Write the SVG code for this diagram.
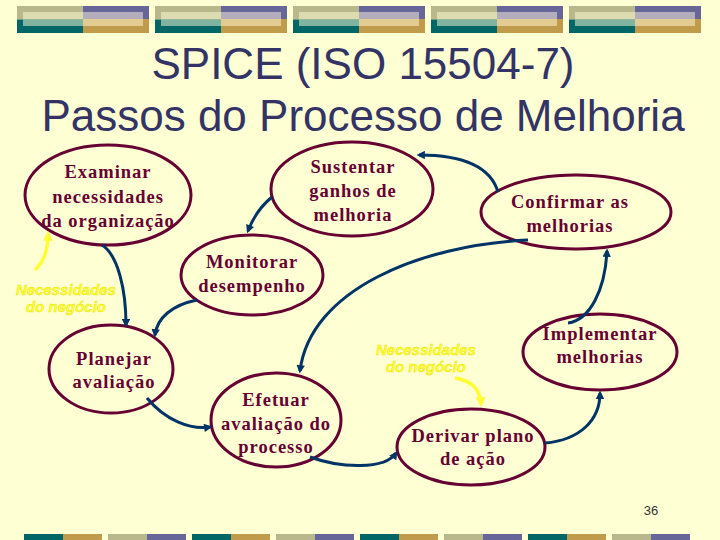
<svg xmlns="http://www.w3.org/2000/svg" width="720" height="540" viewBox="0 0 720 540">
<defs>
<style>
.title{font-family:"Liberation Sans",Arial,sans-serif;font-size:44px;fill:#333366;text-anchor:middle}
.node ellipse{fill:#ffffd4;stroke:#660033;stroke-width:3}
.node text{font-family:"Liberation Serif","Times New Roman",serif;font-weight:bold;font-size:18.5px;fill:#660033;text-anchor:middle;letter-spacing:1px}
.conn{fill:none;stroke:#003366;stroke-width:3;marker-end:url(#arr)}
.ycon{fill:none;stroke:#ffff33;stroke-width:3.5;marker-end:url(#yarr)}
.ylab{font-family:"Liberation Sans",Arial,sans-serif;font-style:italic;font-weight:bold;font-size:15px;fill:#ffff33;stroke:#e6e000;stroke-width:0.4;text-anchor:middle}
.pg{font-family:"Liberation Sans",Arial,sans-serif;font-size:13px;fill:#333333;text-anchor:middle}
</style>
<marker id="arr" viewBox="0 0 10 10" refX="7" refY="5" markerWidth="3.2" markerHeight="2.8" orient="auto" markerUnits="strokeWidth">
<path d="M0,0 L10,5 L0,10 z" fill="#003366"/>
</marker>
<marker id="yarr" viewBox="0 0 10 10" refX="7" refY="5" markerWidth="3" markerHeight="2.8" orient="auto" markerUnits="strokeWidth">
<path d="M0,0 L10,5 L0,10 z" fill="#ffff33"/>
</marker>
<g id="tb">
<rect x="0" y="0" width="66" height="13.5" fill="#b8b88c"/>
<rect x="66" y="0" width="66" height="13" fill="#666699"/>
<rect x="0" y="13.5" width="66" height="13.5" fill="#006666"/>
<rect x="66" y="13" width="66" height="14" fill="#c19b4c"/>
<rect x="6" y="6" width="60" height="7.5" fill="#dcdcb0"/>
<rect x="66" y="6" width="60" height="7" fill="#b3adbc"/>
<rect x="6" y="13.5" width="60" height="6.5" fill="#80b3a0"/>
<rect x="66" y="13" width="60" height="7" fill="#e2cc92"/>
</g>
</defs>
<rect x="0" y="0" width="720" height="540" fill="#ffffd4"/>
<g id="topbar">
<use href="#tb" x="17" y="6"/>
<use href="#tb" x="155" y="6"/>
<use href="#tb" x="293" y="6"/>
<use href="#tb" x="431" y="6"/>
<use href="#tb" x="569" y="6"/>
</g>
<g id="bottombar">
<rect x="24" y="534" width="39" height="6" fill="#006666"/><rect x="63" y="534" width="39" height="6" fill="#c19b4c"/>
<rect x="108" y="534" width="39" height="6" fill="#b8b88c"/><rect x="147" y="534" width="39" height="6" fill="#666699"/>
<rect x="192" y="534" width="39" height="6" fill="#006666"/><rect x="231" y="534" width="39" height="6" fill="#c19b4c"/>
<rect x="276" y="534" width="39" height="6" fill="#b8b88c"/><rect x="315" y="534" width="39" height="6" fill="#666699"/>
<rect x="360" y="534" width="39" height="6" fill="#006666"/><rect x="399" y="534" width="39" height="6" fill="#c19b4c"/>
<rect x="444" y="534" width="39" height="6" fill="#b8b88c"/><rect x="483" y="534" width="39" height="6" fill="#666699"/>
<rect x="528" y="534" width="39" height="6" fill="#006666"/><rect x="567" y="534" width="39" height="6" fill="#c19b4c"/>
<rect x="612" y="534" width="39" height="6" fill="#b8b88c"/><rect x="651" y="534" width="39" height="6" fill="#666699"/>
</g>
<g id="title">
<text class="title" x="363" y="79">SPICE (ISO 15504-7)</text>
<text class="title" x="363" y="131">Passos do Processo de Melhoria</text>
</g>
<g id="n-examinar" class="node">
<ellipse cx="108" cy="195" rx="83" ry="50"/>
<text x="108" y="178">Examinar</text>
<text x="108" y="203">necessidades</text>
<text x="108" y="227">da organização</text>
</g>
<g id="n-sustentar" class="node">
<ellipse cx="352" cy="189" rx="81" ry="47"/>
<text x="353" y="173">Sustentar</text>
<text x="353" y="197">ganhos de</text>
<text x="353" y="221">melhoria</text>
</g>
<g id="n-confirmar" class="node">
<ellipse cx="576" cy="212" rx="95" ry="37"/>
<text x="570" y="208">Confirmar as</text>
<text x="570" y="232">melhorias</text>
</g>
<g id="n-monitorar" class="node">
<ellipse cx="252" cy="275" rx="71" ry="40"/>
<text x="252" y="268">Monitorar</text>
<text x="252" y="292">desempenho</text>
</g>
<g id="n-planejar" class="node">
<ellipse cx="111" cy="369" rx="62" ry="44"/>
<text x="114" y="365">Planejar</text>
<text x="114" y="388">avaliação</text>
</g>
<g id="n-efetuar" class="node">
<ellipse cx="276" cy="420" rx="65" ry="47"/>
<text x="276" y="406">Efetuar</text>
<text x="276" y="430">avaliação do</text>
<text x="276" y="453">processo</text>
</g>
<g id="n-implementar" class="node">
<ellipse cx="600" cy="352" rx="77" ry="38"/>
<text x="600" y="340">Implementar</text>
<text x="600" y="363">melhorias</text>
</g>
<g id="n-derivar" class="node">
<ellipse cx="471" cy="447" rx="74" ry="38"/>
<text x="473" y="442">Derivar plano</text>
<text x="473" y="465">de ação</text>
</g>
<g id="connectors">
<path class="conn" d="M102,245 C118,255 126,290 126,325"/>
<path class="conn" d="M197,300 C172,305 157,318 155,335"/>
<path class="conn" d="M272,197 Q256,210 248,231"/>
<path class="conn" d="M498,192 C490,165 460,155 419,155"/>
<path class="conn" d="M568,323 C590,320 605,290 607,251"/>
<path class="conn" d="M528,240 C420,245 310,290 300,371"/>
<path class="conn" d="M147,398 C165,420 190,430 210,427"/>
<path class="conn" d="M310,457 C340,468 385,470 396,453"/>
<path class="conn" d="M545,443 C580,440 600,420 600,393"/>
<path class="ycon" d="M35,270 Q48,258 48,234"/>
<path class="ycon" d="M455,378 Q480,382 481,404"/>
</g>
<g id="labels">
<text class="ylab" x="66" y="295">Necessidades</text>
<text class="ylab" x="66" y="312">do negócio</text>
<text class="ylab" x="426" y="355">Necessidades</text>
<text class="ylab" x="426" y="372">do negócio</text>
<text class="pg" x="651" y="515">36</text>
</g>
</svg>
